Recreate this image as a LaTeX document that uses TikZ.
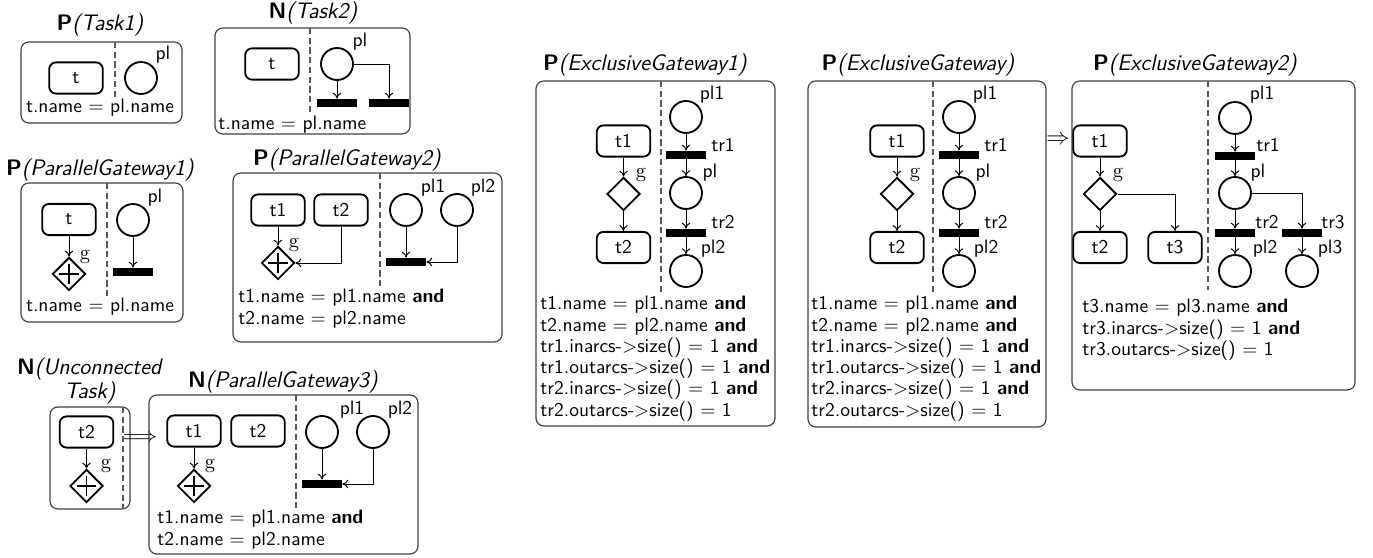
\documentclass[tikz,border=0pt]{standalone}
\usetikzlibrary{shapes.geometric,arrows.meta}
\begin{document}
\begin{tikzpicture}[x=0.513pt,y=-0.513pt,
  every node/.style={font=\sffamily\fontsize{10}{10.9}\selectfont},
  frame/.style={draw=black!75, line width=0.6pt, rounded corners=4pt},
  divider/.style={draw=black!65, line width=0.6pt, dash pattern=on 3.2pt off 1.8pt},
  task/.style={draw, line width=0.95pt, rounded corners=3.5pt, minimum width=27.5pt, minimum height=16pt, inner sep=0pt},
  place/.style={circle, draw, line width=0.95pt, minimum size=16.4pt, inner sep=0pt},
  trans/.style={rectangle, fill=black, minimum width=20.5pt, minimum height=4.2pt, inner sep=0pt},
  xgate/.style={diamond, draw, line width=0.95pt, minimum width=17pt, minimum height=17pt, inner sep=0pt},
  pgate/.style={xgate, path picture={\draw[line width=0.95pt]
      ([xshift=-5pt]path picture bounding box.center) -- ([xshift=5pt]path picture bounding box.center)
      ([yshift=-5pt]path picture bounding box.center) -- ([yshift=5pt]path picture bounding box.center);}},
  arc/.style={-{To[length=3pt,width=4.4pt]}, line width=0.5pt},
  title/.style={font=\sffamily\fontsize{11.5}{12}\selectfont},
  lbl/.style={inner sep=0pt},
  glbl/.style={inner sep=0pt, font=\rmfamily\fontsize{10.5}{12}\selectfont},
  cond/.style={anchor=north west, align=left, inner sep=0pt},
  cond1/.style={anchor=center, inner sep=0pt},
]
\useasboundingbox (0,0) rectangle (1373,558);

% ---------- P(Task1)
\node[title] (ttlA) at (100,25) {\textbf{P}\textit{(Task1)}};
\draw[frame] (21,42) rectangle (182,123);
\draw[divider] (115,42) -- (115,97);
\node[task] (A-t) at (76,78) {t};
\node[place] (A-pl) at (141,78) {};
\node[lbl] (A-pll) at (163,55) {pl};
\node[cond1] (A-c) at (100,108) {t.name $=$ pl.name};

% ---------- N(Task2)
\node[title] (ttlB) at (313,13) {\textbf{N}\textit{(Task2)}};
\draw[frame] (215,28) rectangle (410,134);
\draw[divider] (310,28) -- (310,113);
\node[task] (B-t) at (272,64) {t};
\node[place] (B-pl) at (337,64) {};
\node[lbl] (B-pll) at (360,42) {pl};
\node[trans] (B-b1) at (337,103) {};
\node[trans] (B-b2) at (389,103) {};
\draw[arc] (B-pl) -- (B-b1);
\draw[arc] (B-pl.east) -| (B-b2.north);
\node[cond,anchor=west] (B-c) at (218,125) {t.name $=$ pl.name};

% ---------- P(ParallelGateway1)
\node[title] (ttlC) at (100,170) {\textbf{P}\textit{(ParallelGateway1)}};
\draw[frame] (21,183) rectangle (183,322);
\draw[divider] (107,183) -- (107,297);
\node[task] (C-t) at (69,219.5) {t};
\node[pgate] (C-g) at (69,274) {};
\node[glbl] (C-gl) at (85,257) {g};
\node[place] (C-pl) at (133,220) {};
\node[lbl] (C-pll) at (155,198) {pl};
\node[trans] (C-b) at (133,272) {};
\draw[arc] (C-t) -- (C-g);
\draw[arc] (C-pl) -- (C-b);
\node[cond1] (C-c) at (100,307) {t.name $=$ pl.name};

% ---------- P(ParallelGateway2)
\node[title] (ttlD) at (347,160) {\textbf{P}\textit{(ParallelGateway2)}};
\draw[frame] (233,173) rectangle (502,342);
\draw[divider] (380,173) -- (380,287);
\node[task] (D-t1) at (278,210) {t1};
\node[task] (D-t2) at (341,210) {t2};
\node[pgate] (D-g) at (278,263) {};
\node[glbl] (D-gl) at (294,245) {g};
\node[place] (D-pl1) at (406,210) {};
\node[place] (D-pl2) at (457,210) {};
\node[lbl] (D-pl1l) at (433,188) {pl1};
\node[lbl] (D-pl2l) at (483,188) {pl2};
\node[trans] (D-b) at (406,262) {};
\draw[arc] (D-t1) -- (D-g);
\draw[arc] (D-t2.south) |- (D-g.east);
\draw[arc] (D-pl1) -- (D-b);
\draw[arc] (D-pl2.south) |- (D-b.east);
\node[cond] (D-c) at (238,289) {t1.name $=$ pl1.name \textbf{and}\\t2.name $=$ pl2.name};

% ---------- N(Unconnected Task)
\node[title,align=center] (ttlE) at (90,381) {\textbf{N}\textit{(Unconnected}\\\textit{Task)}};
\draw[frame] (50,407) rectangle (130,509);
\draw[divider] (123,407) -- (123,509);
\node[task] (E-t2) at (86.5,432) {t2};
\node[pgate] (E-g) at (86.5,486) {};
\node[glbl] (E-gl) at (106,466) {g};
\draw[arc] (E-t2) -- (E-g);
\node[inner sep=0pt, font=\fontsize{10.5}{12}\selectfont] (impE) at (140,439) {$\Longrightarrow$};

% ---------- N(ParallelGateway3)
\node[title] (ttlF) at (283,382) {\textbf{N}\textit{(ParallelGateway3)}};
\draw[frame] (149,395) rectangle (418,554);
\draw[divider] (296,395) -- (296,508);
\node[task] (F-t1) at (194,431) {t1};
\node[task] (F-t2) at (258,431) {t2};
\node[pgate] (F-g) at (194,486) {};
\node[glbl] (F-gl) at (210,466) {g};
\node[place] (F-pl1) at (322,432) {};
\node[place] (F-pl2) at (373,432) {};
\node[lbl] (F-pl1l) at (352,410) {pl1};
\node[lbl] (F-pl2l) at (400,410) {pl2};
\node[trans] (F-b) at (322,484) {};
\draw[arc] (F-t1) -- (F-g);
\draw[arc] (F-pl1) -- (F-b);
\draw[arc] (F-pl2.south) |- (F-b.east);
\node[cond] (F-c) at (157,510) {t1.name $=$ pl1.name \textbf{and}\\t2.name $=$ pl2.name};

% ---------- P(ExclusiveGateway1)
\node[title] (ttlG) at (645,65) {\textbf{P}\textit{(ExclusiveGateway1)}};
\draw[frame] (536,81) rectangle (775,426);
\draw[divider] (661,81) -- (661,293);
\node[task] (G-t1) at (623.5,141) {t1};
\node[xgate] (G-g) at (623.5,194) {};
\node[glbl] (G-gl) at (641,175) {g};
\node[task] (G-t2) at (623.5,247.5) {t2};
\node[place] (G-pl1) at (686,117) {};
\node[trans] (G-tr1) at (686,155) {};
\node[place] (G-pl) at (686,193) {};
\node[trans] (G-tr2) at (686,233) {};
\node[place] (G-pl2) at (686,271) {};
\node[lbl] at (712,95) {pl1};
\node[lbl] at (723,145) {tr1};
\node[lbl] at (710,173) {pl};
\node[lbl] at (723,222) {tr2};
\node[lbl] at (713,249) {pl2};
\draw[arc] (G-t1) -- (G-g);
\draw[arc] (G-g) -- (G-t2);
\draw[arc] (G-pl1) -- (G-tr1);
\draw[arc] (G-tr1) -- (G-pl);
\draw[arc] (G-pl) -- (G-tr2);
\draw[arc] (G-tr2) -- (G-pl2);
\node[cond] (G-c) at (540,296) {t1.name $=$ pl1.name \textbf{and}\\t2.name $=$ pl2.name \textbf{and}\\tr1.inarcs-$>$size() $=$ 1 \textbf{and}\\tr1.outarcs-$>$size() $=$ 1 \textbf{and}\\tr2.inarcs-$>$size() $=$ 1 \textbf{and}\\tr2.outarcs-$>$size() $=$ 1};

% ---------- P(ExclusiveGateway)
\node[title] (ttlH) at (918,65) {\textbf{P}\textit{(ExclusiveGateway)}};
\draw[frame] (808,81) rectangle (1046,427);
\draw[divider] (933,81) -- (933,293);
\node[task] (H-t1) at (897,141) {t1};
\node[xgate] (H-g) at (897,194) {};
\node[glbl] (H-gl) at (915,175) {g};
\node[task] (H-t2) at (897,247.5) {t2};
\node[place] (H-pl1) at (959,117) {};
\node[trans] (H-tr1) at (959,155) {};
\node[place] (H-pl) at (959,193) {};
\node[trans] (H-tr2) at (959,233) {};
\node[place] (H-pl2) at (959,271) {};
\node[lbl] at (985,95) {pl1};
\node[lbl] at (996,145) {tr1};
\node[lbl] at (983,173) {pl};
\node[lbl] at (996,222) {tr2};
\node[lbl] at (986,249) {pl2};
\draw[arc] (H-t1) -- (H-g);
\draw[arc] (H-g) -- (H-t2);
\draw[arc] (H-pl1) -- (H-tr1);
\draw[arc] (H-tr1) -- (H-pl);
\draw[arc] (H-pl) -- (H-tr2);
\draw[arc] (H-tr2) -- (H-pl2);
\node[cond] (H-c) at (811,296) {t1.name $=$ pl1.name \textbf{and}\\t2.name $=$ pl2.name \textbf{and}\\tr1.inarcs-$>$size() $=$ 1 \textbf{and}\\tr1.outarcs-$>$size() $=$ 1 \textbf{and}\\tr2.inarcs-$>$size() $=$ 1 \textbf{and}\\tr2.outarcs-$>$size() $=$ 1};
\node[inner sep=0pt, font=\fontsize{11.5}{12}\selectfont] (impH) at (1058,140) {$\Rightarrow$};

% ---------- P(ExclusiveGateway2)
\node[title] (ttlI) at (1195,65) {\textbf{P}\textit{(ExclusiveGateway2)}};
\draw[frame] (1072,81) rectangle (1355,390);
\draw[divider] (1208,81) -- (1208,290);
\node[task] (I-t1) at (1100,141) {t1};
\node[xgate] (I-g) at (1100,194) {};
\node[glbl] (I-gl) at (1118,175) {g};
\node[task] (I-t2) at (1100,247.5) {t2};
\node[task] (I-t3) at (1175,247.5) {t3};
\node[place] (I-pl1) at (1235,118) {};
\node[trans] (I-tr1) at (1235,156) {};
\node[place] (I-pl) at (1235,193) {};
\node[trans] (I-tr2) at (1235,233) {};
\node[trans] (I-tr3) at (1302,233) {};
\node[place] (I-pl2) at (1235,271) {};
\node[place] (I-pl3) at (1302,271) {};
\node[lbl] at (1262,95) {pl1};
\node[lbl] at (1268,145) {tr1};
\node[lbl] at (1258,173) {pl};
\node[lbl] at (1267,222) {tr2};
\node[lbl] at (1333,222) {tr3};
\node[lbl] at (1265,249) {pl2};
\node[lbl] at (1330,249) {pl3};
\draw[arc] (I-t1) -- (I-g);
\draw[arc] (I-g) -- (I-t2);
\draw[arc] (I-g.east) -| (I-t3.north);
\draw[arc] (I-pl1) -- (I-tr1);
\draw[arc] (I-tr1) -- (I-pl);
\draw[arc] (I-pl) -- (I-tr2);
\draw[arc] (I-pl.east) -| (I-tr3.north);
\draw[arc] (I-tr2) -- (I-pl2);
\draw[arc] (I-tr3) -- (I-pl3);
\node[cond] (I-c) at (1082,299) {t3.name $=$ pl3.name \textbf{and}\\tr3.inarcs-$>$size() $=$ 1 \textbf{and}\\tr3.outarcs-$>$size() $=$ 1};
\end{tikzpicture}
\end{document}
